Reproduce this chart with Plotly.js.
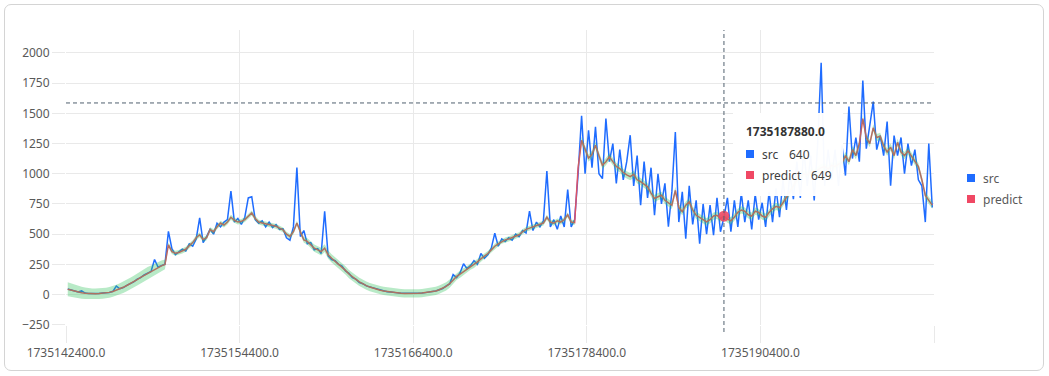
<!DOCTYPE html>
<html><head><meta charset="utf-8">
<script src="https://cdn.plot.ly/plotly-3.0.1.min.js"></script>
<style>
html,body{margin:0;padding:0;background:#fff;}
#frame{position:absolute;left:4px;top:4px;width:1040px;height:367px;box-sizing:border-box;border:1px solid #d4d4d4;border-radius:7px;}
#chart{position:absolute;left:0;top:0;width:1049px;height:376px;}
</style></head><body>
<div id="frame"></div>
<div id="chart"></div>
<script>
// sampling: first timestamp and step (seconds)
const timeStart = 1735142520;
const timeStep = 240;

const src = [
46,38,27,22,30,12,9,8,6,9,
12,14,17,27,70,48,58,76,92,104,
128,140,162,174,192,290,228,240,252,523,
380,330,350,375,360,420,400,460,634,430,
480,540,500,590,560,600,620,856,600,630,
580,640,800,810,620,590,610,560,600,555,
580,540,545,470,450,560,1051,480,530,420,
430,370,380,340,689,320,290,280,250,235,
195,175,140,128,100,90,72,64,50,45,
34,32,24,21,15,14,10,10,7,9,
8,11,12,16,18,26,29,42,50,72,
88,165,140,180,255,215,240,280,250,340,
300,330,385,508,400,460,440,470,450,500,
480,530,510,690,530,600,560,610,1023,560,
620,540,650,560,870,560,620,1000,1480,1000,
1360,1050,1388,1000,960,1457,1100,1250,919,1200,
950,1100,1319,900,1150,739,1100,800,1050,656,
1000,750,920,561,850,1346,600,850,463,900,
580,780,422,750,500,740,491,800,520,640,
800,520,780,560,840,600,780,540,830,620,
760,560,850,600,880,640,950,700,1000,790,
1100,800,1200,900,1150,780,1250,1919,900,1200,
950,1200,900,1233,985,1556,1126,1300,1100,1771,
1208,1400,1598,1200,1316,1150,1432,902,1316,1150,
1300,1000,1250,1068,1200,950,900,600,1250,720
];

const predict = [
44,36,28,21,15,11,8,7,7,8,
10,13,18,26,36,47,60,75,90,106,
124,143,160,176,189,205,225,238,250,411,
355,342,348,360,375,405,430,470,495,455,
470,537,520,560,592,575,600,640,615,600,
606,620,650,675,630,600,592,585,578,570,
565,550,535,500,481,520,592,520,453,440,
410,384,370,356,384,330,300,275,255,231,
200,170,145,125,105,88,74,62,52,43,
36,30,25,20,16,13,11,9,8,8,
9,10,12,15,19,24,30,40,52,68,
90,120,150,170,190,210,232,245,270,295,
314,340,370,400,420,440,453,460,470,485,
495,520,540,550,560,570,580,592,640,600,
590,610,600,620,660,600,595,1050,1277,1200,
1130,1160,1236,1150,1070,1100,1140,1100,1060,1043,
1010,990,976,995,950,934,910,892,840,795,
810,822,780,760,739,863,720,687,740,767,
700,656,640,620,601,620,650,656,630,649,
625,610,640,680,700,690,660,650,690,680,
650,640,680,710,730,720,760,800,850,900,
950,980,1000,990,1020,1010,1030,1050,1060,1040,
1070,1060,1080,1090,1150,1100,1200,1150,1250,1457,
1300,1250,1380,1300,1310,1230,1180,1220,1150,1260,
1180,1150,1190,1150,1110,1060,950,820,780,740
];

// half width of the confidence band around predict
const bandHalf = [
58,56,54,52,50,48,46,44,44,44,
44,44,44,44,45,46,47,48,49,50,
50,52,52,52,52,50,48,44,40,20,
20,20,20,20,20,20,20,20,20,20,
20,20,20,20,20,20,20,20,20,20,
20,20,20,20,20,20,20,20,20,20,
20,20,20,20,20,20,20,22,24,26,
28,30,30,32,32,34,34,34,34,34,
34,34,34,34,34,34,34,34,34,34,
34,34,34,34,34,34,34,34,34,34,
34,34,34,34,34,34,34,34,34,34,
34,32,30,30,28,28,26,26,24,24,
22,20,20,20,20,20,20,20,20,20,
20,20,20,20,20,20,20,20,20,20,
20,20,20,20,20,20,20,20,30,30,
30,30,30,30,30,30,30,30,30,30,
30,30,30,30,30,30,30,30,30,30,
30,30,30,30,30,30,30,30,30,30,
30,30,30,30,30,30,30,30,30,30,
30,30,30,30,30,30,30,30,30,30,
30,30,30,30,30,30,30,30,30,30,
30,30,30,30,30,30,30,30,30,30,
30,30,30,30,30,30,30,30,30,30,
30,30,30,30,30,30,30,30,30,30,
30,30,30,30,30,30,30,30,30,30
];

const xTickVals = [1735142400, 1735154400, 1735166400, 1735178400, 1735190400, 1735202400];
const xTickText = ['1735142400.0', '1735154400.0', '1735166400.0', '1735178400.0', '1735190400.0', ''];
const yTickVals = [-250, 0, 250, 500, 750, 1000, 1250, 1500, 1750, 2000];

const hoverIndex = 189;
const crosshairY = 1586;
const seriesNames = ['src', 'predict'];

const time = src.map((_, i) => timeStart + i * timeStep);
const bandLow = predict.map((v, i) => v - bandHalf[i]);
const bandHigh = predict.map((v, i) => v + bandHalf[i]);

const BLUE = '#1f6cff';
const RED = '#f04864';
const FONT = 'Noto Sans, sans-serif';
const GRID = '#e9e9e9';

const traces = [
  {x: time, y: src, type: 'scatter', mode: 'lines', line: {color: BLUE, width: 1.5}, showlegend: false, hoverinfo: 'skip'},
  {x: time, y: predict, type: 'scatter', mode: 'lines', line: {color: RED, width: 1.5}, showlegend: false, hoverinfo: 'skip'},
  {x: time, y: bandLow, type: 'scatter', mode: 'lines', line: {width: 0, color: 'rgba(0,0,0,0)'}, showlegend: false, hoverinfo: 'skip'},
  {x: time, y: bandHigh, type: 'scatter', mode: 'lines', fill: 'tonexty', fillcolor: 'rgba(47,194,91,0.34)', line: {width: 0, color: 'rgba(0,0,0,0)'}, showlegend: false, hoverinfo: 'skip'},
  {x: [time[hoverIndex]], y: [predict[hoverIndex]], type: 'scatter', mode: 'markers', marker: {color: RED, size: 11, opacity: 0.9}, showlegend: false, hoverinfo: 'skip'}
];

// paper-coordinate helpers (plot area: page x 66..934, y 30..325)
const px = x => (x - 66) / 868;
const py = y => (325 - y) / 295;

const shapes = [
  {type: 'line', xref: 'x', yref: 'paper', x0: time[hoverIndex], x1: time[hoverIndex], y0: py(332), y1: 1, line: {color: '#50606f', width: 1, dash: '4px,3px'}, layer: 'above'},
  {type: 'line', xref: 'paper', yref: 'y', x0: 0, x1: 1, y0: crosshairY, y1: crosshairY, line: {color: '#50606f', width: 1, dash: '4px,3px'}, layer: 'above'},
  {type: 'rect', xref: 'paper', yref: 'paper', x0: px(733), x1: px(843), y0: py(196), y1: py(113), fillcolor: 'rgba(255,255,255,0.97)', line: {width: 0}, layer: 'above'},
  {type: 'rect', xref: 'paper', yref: 'paper', x0: px(746), x1: px(754), y0: py(158), y1: py(150), fillcolor: BLUE, line: {width: 0}, layer: 'above'},
  {type: 'rect', xref: 'paper', yref: 'paper', x0: px(746), x1: px(754), y0: py(179), y1: py(171), fillcolor: RED, line: {width: 0}, layer: 'above'},
  {type: 'rect', xref: 'paper', yref: 'paper', x0: px(967), x1: px(975), y0: py(182), y1: py(174), fillcolor: BLUE, line: {width: 0}, layer: 'above'},
  {type: 'rect', xref: 'paper', yref: 'paper', x0: px(967), x1: px(975), y0: py(203), y1: py(195), fillcolor: RED, line: {width: 0}, layer: 'above'}
];

const ann = (x, y, text, color, size, bold) => ({
  xref: 'paper', yref: 'paper', x: px(x), y: py(y), xanchor: 'left', yanchor: 'middle',
  text: bold ? '<b>' + text + '</b>' : text, showarrow: false,
  font: {family: FONT, size: size, color: color}
});

const annotations = [
  ann(744, 131, time[hoverIndex].toFixed(1), '#333333', 12, true),
  ann(760, 154, seriesNames[0], '#404040', 12),
  ann(787, 154, String(src[hoverIndex]), '#404040', 12),
  ann(760, 175, seriesNames[1], '#404040', 12),
  ann(809, 175, String(predict[hoverIndex]), '#404040', 12),
  ann(981, 178, seriesNames[0], '#595959', 12),
  ann(981, 199, seriesNames[1], '#595959', 12)
];

const layout = {
  width: 1049, height: 376,
  margin: {l: 66, r: 115, t: 30, b: 51},
  paper_bgcolor: 'rgba(0,0,0,0)', plot_bgcolor: 'rgba(0,0,0,0)',
  showlegend: false,
  font: {family: FONT, size: 12, color: '#595959'},
  xaxis: {
    range: [1735142400, 1735202400], tickmode: 'array', tickvals: xTickVals, ticktext: xTickText,
    showgrid: true, gridcolor: GRID, gridwidth: 1, zeroline: false, showline: false,
    ticks: 'outside', ticklen: 17, tickcolor: GRID, tickwidth: 1,
    tickfont: {family: FONT, size: 12, color: '#595959'}
  },
  yaxis: {
    range: [-252, 2190], tickmode: 'array', tickvals: yTickVals,
    showgrid: true, gridcolor: GRID, gridwidth: 1, zeroline: false, showline: false,
    ticks: 'outside', ticklen: 13, tickcolor: GRID, tickwidth: 1,
    tickfont: {family: FONT, size: 12, color: '#595959'}
  },
  shapes: shapes,
  annotations: annotations
};

Plotly.newPlot('chart', traces, layout, {staticPlot: true, displayModeBar: false});
</script></body></html>
